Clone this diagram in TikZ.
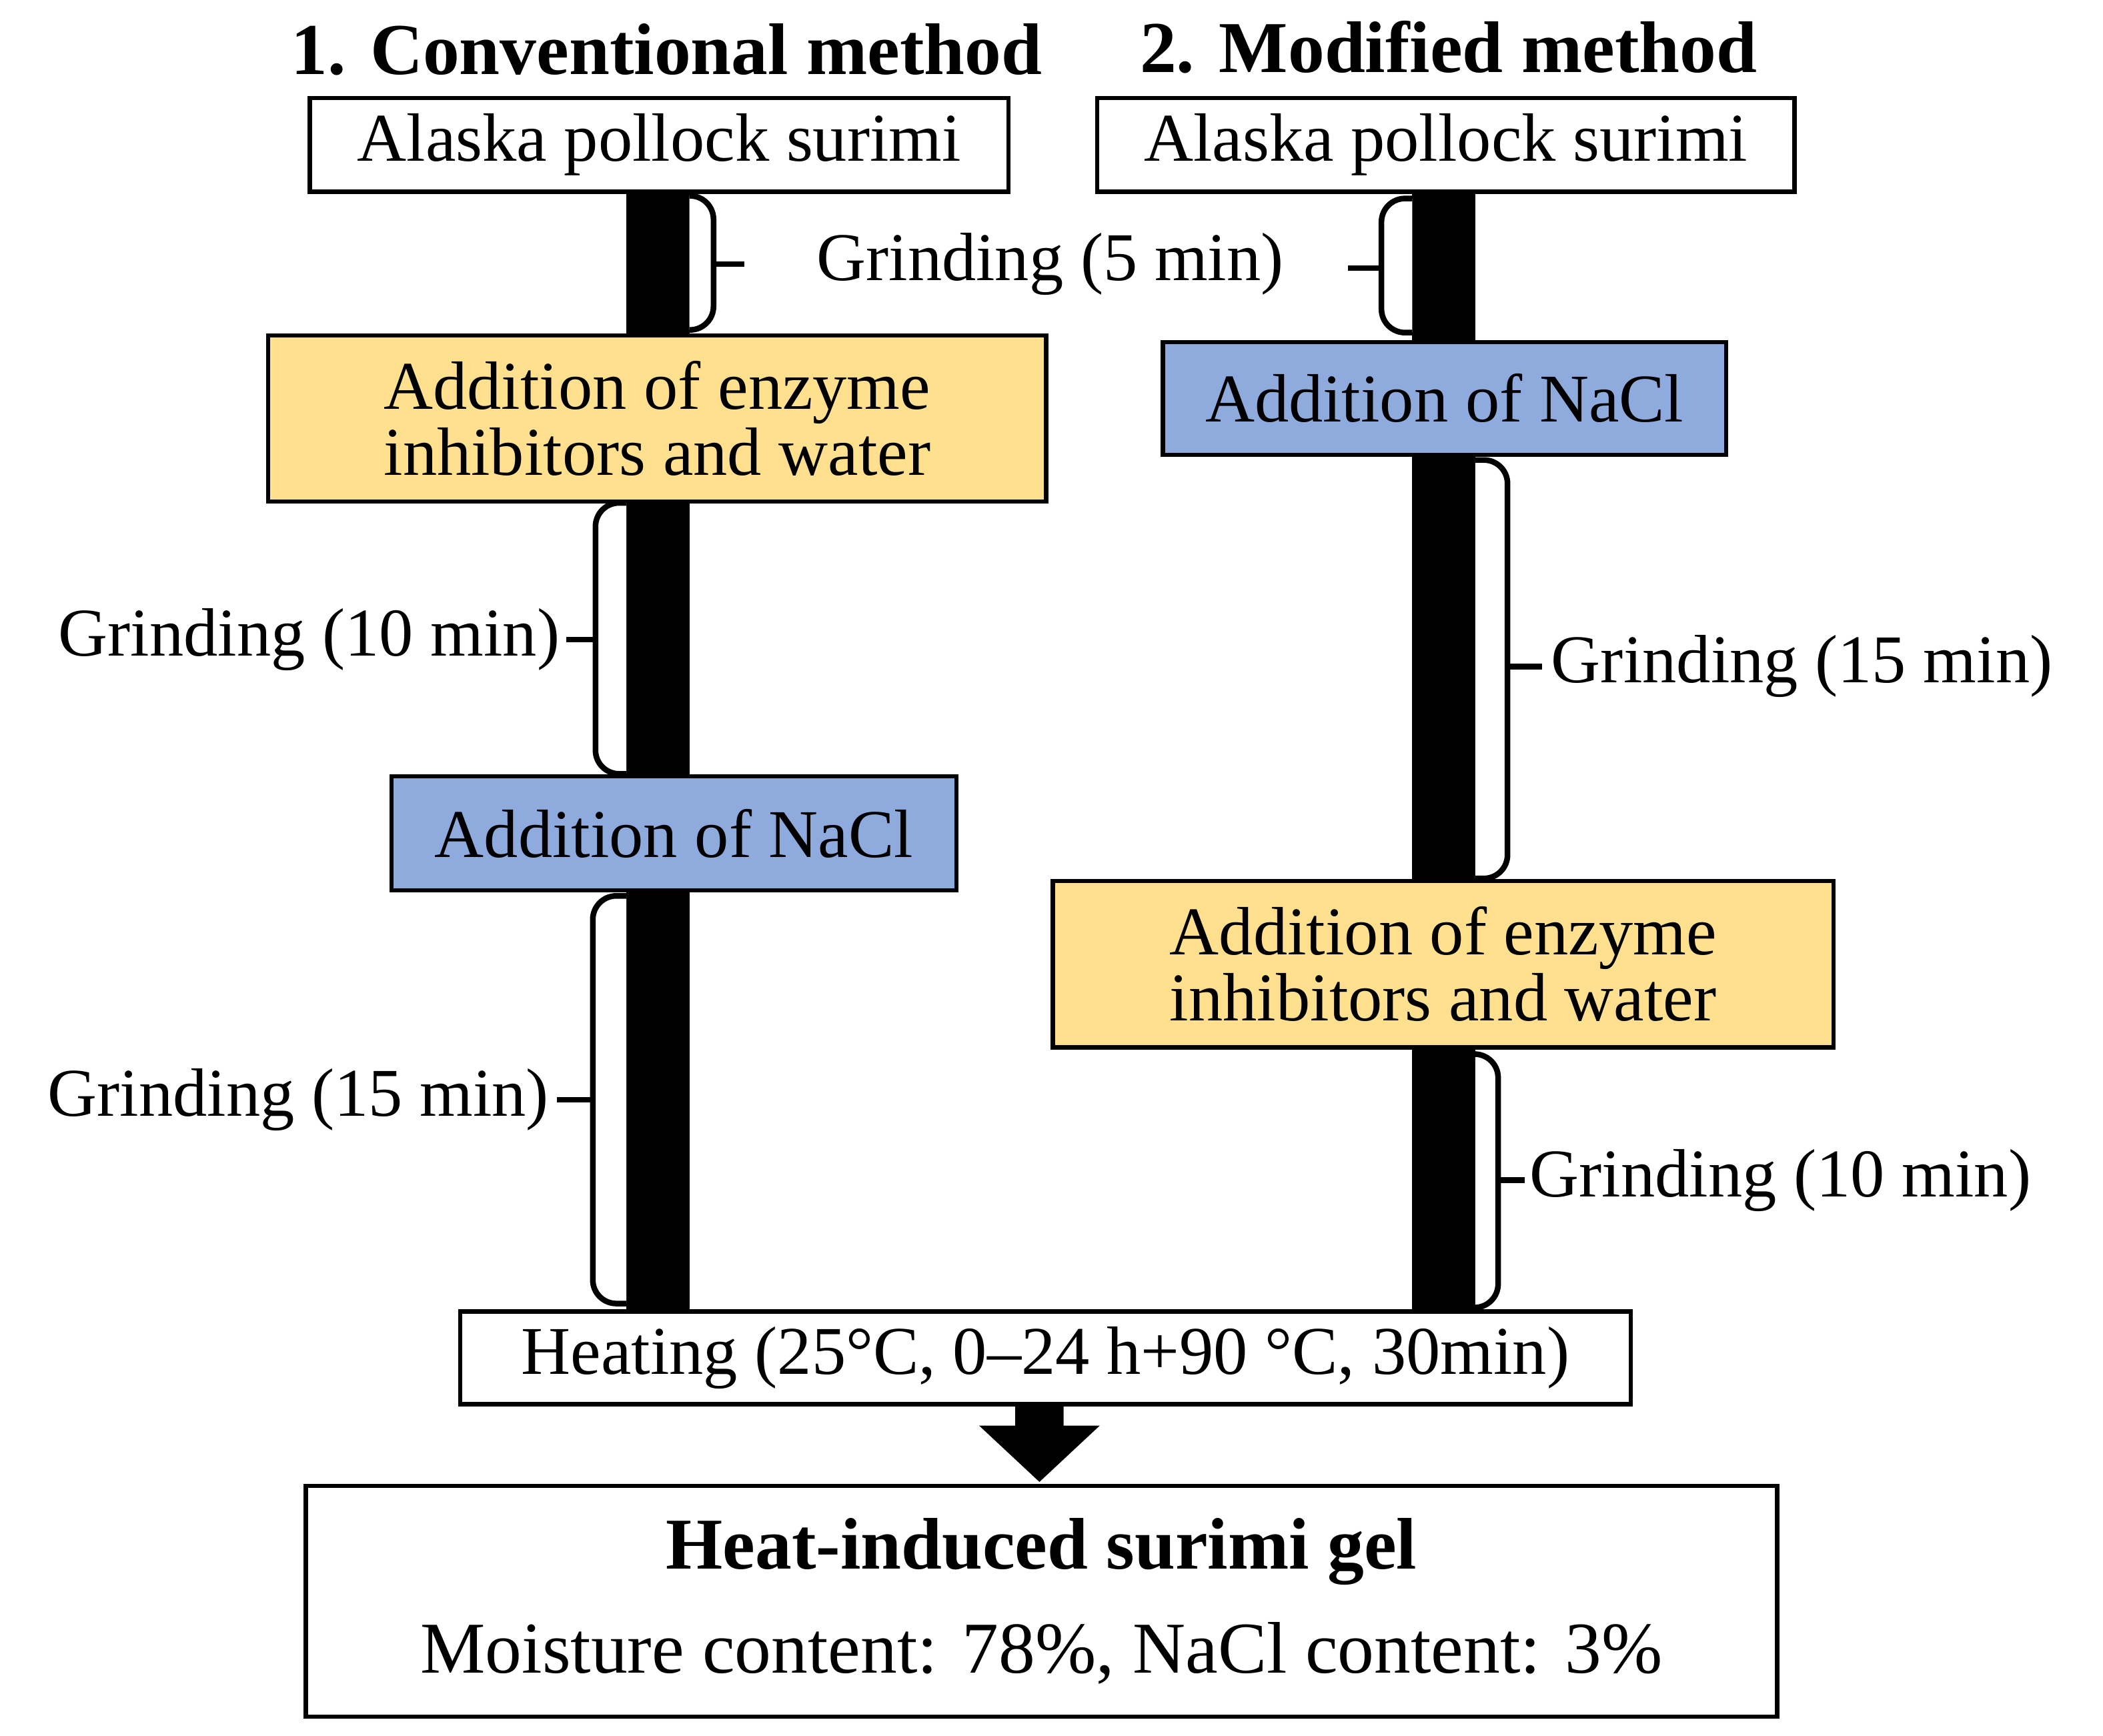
\documentclass[tikz,border=0pt]{standalone}
\usepackage{fontspec}
\setmainfont{Liberation Serif}
\usetikzlibrary{backgrounds}
\definecolor{yel}{HTML}{FFE08F}
\definecolor{blu}{HTML}{8FAADC}
\newcommand\grbrace[6]{%
  \draw[fill=white, line width=1.2pt, rounded corners=5pt] (#1,-#3) -- (#2,-#3) -- (#2,-#4) -- (#1,-#4);
  \draw[line width=1.2pt] (#2,-#5) -- (#6,-#5);}
\begin{document}
\begin{tikzpicture}[x=0.1mm,y=0.1mm,
  box/.style={draw, line width=0.9pt, inner sep=0pt, align=center, font=\fontsize{14.5}{16}\selectfont},
  lbl/.style={inner sep=0pt, font=\fontsize{14.5}{16}\selectfont},
  ttl/.style={inner sep=0pt, font=\fontsize{15.5}{17}\selectfont\bfseries},
  bar/.style={line width=4.7mm}]
\useasboundingbox (0,0) rectangle (1568,-1294);
\node[ttl] (t1) at (497,-37) {1. Conventional method};
\node[ttl] (t2) at (1080,-35) {2. Modified method};
\node[box, fill=white, minimum width=52.1mm, minimum height=7mm] (aL) at (491.5,-108) {Alaska pollock surimi};
\node[box, fill=white, minimum width=52mm, minimum height=7mm] (aR) at (1078,-108) {Alaska pollock surimi};
\node[box, fill=yel, minimum width=58mm, minimum height=12.4mm] (yL) at (490,-312) {Addition of enzyme\\[-2pt]inhibitors and water};
\node[box, fill=blu, minimum width=42mm, minimum height=8.4mm] (bR) at (1077,-297) {Addition of NaCl};
\node[box, fill=blu, minimum width=42.1mm, minimum height=8.5mm] (bL) at (502.5,-621.5) {Addition of NaCl};
\node[box, fill=yel, minimum width=58.2mm, minimum height=12.4mm] (yR) at (1076,-719) {Addition of enzyme\\[-2pt]inhibitors and water};
\node[box, fill=white, minimum width=87.3mm, minimum height=6.9mm] (ht) at (779.5,-1012.5) {Heating (25°C, 0–24 h+90 °C, 30min)};
\node[box, fill=white, minimum width=109.7mm, minimum height=17.2mm, font=\fontsize{15.5}{20}\selectfont] (gel) at (776.5,-1194) {{\bfseries Heat-induced surimi gel}\\[2pt]Moisture content: 78\%, NaCl content: 3\%};
\begin{scope}[on background layer]
\draw[bar] (aL.south -| 490.5,0) -- (yL.north -| 490.5,0);
\draw[bar] (yL.south -| 490.5,0) -- (bL.north -| 490.5,0);
\draw[bar] (bL.south -| 490.5,0) -- (ht.north -| 490.5,0);
\draw[bar] (aR.south -| 1076.5,0) -- (bR.north -| 1076.5,0);
\draw[bar] (bR.south -| 1076.5,0) -- (yR.north -| 1076.5,0);
\draw[bar] (yR.south -| 1076.5,0) -- (ht.north -| 1076.5,0);
\end{scope}
\fill (757,-1047) -- (793,-1047) -- (793,-1063) -- (820,-1063) -- (775,-1105) -- (730,-1063) -- (757,-1063) -- cycle;
% braces
\grbrace{514}{532}{146}{246}{197}{555}
\grbrace{1053}{1030}{148}{248}{200}{1005}
\grbrace{467}{444}{375}{577}{477}{422}
\grbrace{467}{442}{668}{972}{820}{415}
\grbrace{1100}{1124}{343}{655}{497}{1150}
\grbrace{1100}{1117}{786}{975}{880}{1137}
\node[lbl] (g5) at (783,-197) {Grinding (5 min)};
\node[lbl, anchor=east] (g10L) at (418,-477) {Grinding (10 min)};
\node[lbl, anchor=east] (g15L) at (410,-820) {Grinding (15 min)};
\node[lbl, anchor=west] (g15R) at (1156,-497) {Grinding (15 min)};
\node[lbl, anchor=west] (g10R) at (1140,-880) {Grinding (10 min)};
\end{tikzpicture}
\end{document}
